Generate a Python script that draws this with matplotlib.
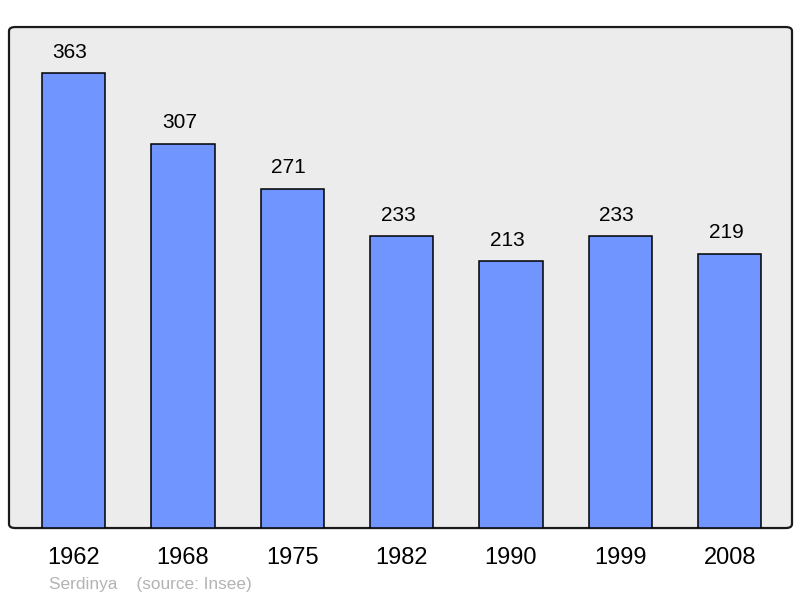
import matplotlib.pyplot as plt
from matplotlib.patches import FancyBboxPatch

years = ["1962", "1968", "1975", "1982", "1990", "1999", "2008"]
population = [363, 307, 271, 233, 213, 233, 219]

plt.rcParams['font.family'] = ['Liberation Sans', 'DejaVu Sans']

fig = plt.figure(figsize=(8, 5.98), dpi=100)
ax = fig.add_axes([0.01125, 0.117, 0.97875, 0.8378])
ax.set_facecolor('none')

# rounded grey frame behind the bars
frame = FancyBboxPatch((0, 0), 1, 1, boxstyle="round,pad=0,rounding_size=0.008",
                       transform=ax.transAxes, facecolor='#ececec',
                       edgecolor='#1a1a1a', linewidth=1.6, zorder=0, clip_on=False)
ax.add_patch(frame)

x = range(len(years))
ax.bar(x, population, width=0.58, color='#7095ff', edgecolor='black',
       linewidth=1.1, zorder=2)

for i, v in enumerate(population):
    ax.annotate(str(v), (i, v), xytext=(-2.6, 15.2), textcoords='offset points',
                ha='center', va='center', fontsize=15, color='black')

ax.set_xlim(-0.59, 6.57)
ax.set_ylim(0, 400)
ax.set_xticks(list(x))
ax.set_xticklabels(years, fontsize=17)
ax.tick_params(axis='x', length=0, pad=14)
ax.set_yticks([])
for s in ax.spines.values():
    s.set_visible(False)

fig.text(49 / 800, 1 - 584 / 598, "Serdinya    (source: Insee)", fontsize=12.4,
         color='#b3b3b3', ha='left', va='center')

fig.savefig('out.png', dpi=100)
